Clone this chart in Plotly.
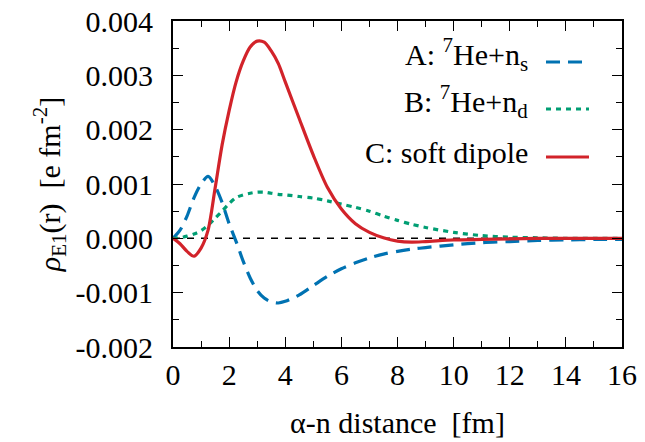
import plotly.graph_objects as go

# alpha-n distance grid [fm]
r = [0, 0.25, 0.5, 0.75, 1.0, 1.25, 1.5, 1.75, 2.0, 2.25, 2.5, 2.75, 3.0, 3.25,
     3.5, 3.75, 4.0, 4.5, 5.0, 5.5, 6.0, 6.5, 7.0, 7.5, 8.0, 8.5, 9, 10, 11, 12,
     13, 14, 15, 16]

# A: 7He + n (s-wave)
rho_a = [0, 0.00015, 0.00041, 0.00075, 0.00100, 0.00114, 0.00096, 0.00066,
         0.00027, -0.00006, -0.00042, -0.00073, -0.00096, -0.00110, -0.00117,
         -0.00119, -0.00116, -0.00104, -0.00087, -0.00070, -0.00056, -0.00045,
         -0.00036, -0.00029, -0.00024, -0.00020, -0.00017, -0.00012, -0.00008,
         -0.00006, -0.00004, -0.00003, -0.00002, -0.00002]

# B: 7He + n (d-wave)
rho_b = [0, 0.00001, 0.00004, 0.00008, 0.00014, 0.00024, 0.00037, 0.00050,
         0.00064, 0.00075, 0.00080, 0.00083, 0.00085, 0.00085, 0.00083,
         0.00081, 0.00080, 0.00077, 0.00074, 0.00069, 0.00063, 0.00057,
         0.00050, 0.00041, 0.00033, 0.00026, 0.00020, 0.00011, 0.00005,
         0.00002, 0.00001, 0, 0, 0]

# C: soft dipole
rho_c = [0, -0.00010, -0.00024, -0.00033, -0.00018, 0.00015, 0.00092, 0.00172,
         0.00235, 0.00288, 0.00326, 0.00352, 0.00363, 0.00361, 0.00345,
         0.00322, 0.00288, 0.00220, 0.00153, 0.00094, 0.00054, 0.00027,
         0.00011, 0.00001, -0.00005, -0.00007, -0.00006, -0.00003, -0.00002,
         -0.00001, 0, 0, 0, 0]

x_ticks = [0, 2, 4, 6, 8, 10, 12, 14, 16]
y_ticks = [-0.002, -0.001, 0.0, 0.001, 0.002, 0.003, 0.004]
y_ticktext = ["-0.002", "-0.001", "0.000", "0.001", "0.002", "0.003", "0.004"]

labels = ["A: <sup>7</sup>He+n<sub>s</sub>",
          "B: <sup>7</sup>He+n<sub>d</sub>",
          "C: soft dipole"]
colors = ["#0072b2", "#009e73", "#d2232a"]
dashes = ["14px,8px", "5px,5px", "solid"]

FONT = "Liberation Serif"
FS = 30

fig = go.Figure()

# zero reference line
fig.add_trace(go.Scatter(x=[0, 16], y=[0, 0], mode="lines",
                         line=dict(color="black", width=1.5, dash="7px,7px"),
                         showlegend=False, hoverinfo="skip"))

for ys, col, dsh in zip([rho_a, rho_b, rho_c], colors, dashes):
    fig.add_trace(go.Scatter(x=r, y=ys, mode="lines",
                             line=dict(color=col, width=3.2, dash=dsh,
                                       shape="spline", smoothing=0.8),
                             showlegend=False))

# key: right-aligned text with a line sample on its right
L, R, T, B = 173, 622, 21, 347
W, H = R - L, B - T
rows_y = [62, 109, 157]
text_shift = [8, 8, 5]
for lab, col, dsh, yp, ys_ in zip(labels, colors, dashes, rows_y, text_shift):
    yy = (B - yp) / H
    fig.add_annotation(x=(530 - L) / W, y=yy, xref="paper", yref="paper",
                       text=lab, showarrow=False, xanchor="right",
                       yanchor="middle", yshift=ys_,
                       font=dict(family=FONT, size=FS, color="black"))
    fig.add_shape(type="line", xref="paper", yref="paper",
                  x0=(546 - L) / W, x1=(589 - L) / W, y0=yy, y1=yy,
                  line=dict(color=col, width=3.2, dash=dsh))

axis_common = dict(showline=True, linecolor="black", linewidth=2, mirror="allticks",
                   ticks="inside", ticklen=10, tickwidth=1, tickcolor="black",
                   showgrid=False, zeroline=False, automargin=False,
                   tickfont=dict(family=FONT, size=FS, color="black"))

fig.update_xaxes(range=[0, 16], tickmode="array", tickvals=x_ticks,
                 ticktext=[str(v) for v in x_ticks],
                 minor=dict(dtick=1, tick0=0, ticks="inside", ticklen=6, tickcolor="black"),
                 title=dict(text="α-n distance  [fm]", standoff=22,
                            font=dict(family=FONT, size=FS, color="black")),
                 **axis_common)
fig.update_yaxes(range=[-0.002, 0.004], tickmode="array", tickvals=y_ticks,
                 ticktext=y_ticktext,
                 minor=dict(dtick=0.0005, tick0=0, ticks="inside", ticklen=6, tickcolor="black"),
                 ticklabelstandoff=12,
                 title=dict(text="<i>ρ</i><sub>E1</sub>(r)  [e fm<sup>-2</sup>]",
                            standoff=6,
                            font=dict(family=FONT, size=FS, color="black")),
                 **axis_common)

fig.update_layout(width=645, height=442,
                  margin=dict(l=L, r=645 - R, t=T, b=442 - B),
                  paper_bgcolor="white", plot_bgcolor="white",
                  font=dict(family=FONT, size=FS, color="black"))

fig.write_html("out.html")
